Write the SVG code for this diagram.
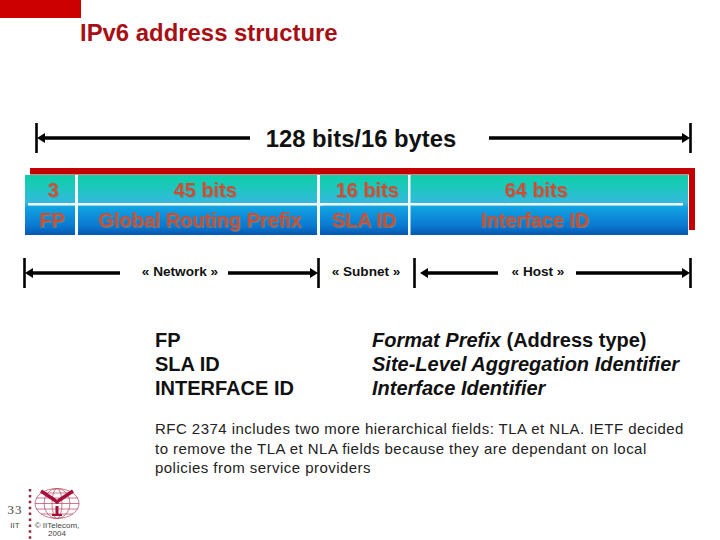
<svg xmlns="http://www.w3.org/2000/svg" width="720" height="540" viewBox="0 0 720 540">
<style>
text{font-family:"Liberation Sans",Arial,sans-serif}
.b{font-weight:bold}
.cell{font-size:19.9px;font-weight:bold;fill:#c9502f;text-anchor:middle;filter:url(#sh)}
.h{font-size:13.6px;font-weight:bold;fill:#111;text-anchor:middle}
.d{font-size:20px;font-weight:bold;fill:#111}
.i{font-style:italic}
.p{font-size:15px;fill:#222;letter-spacing:.46px}
.ln{stroke:#000;stroke-width:3.4;fill:none}
.tick{stroke:#000;stroke-width:2.6}
.ah{fill:#000}
.w{fill:#f4fbfb}
</style>
<defs>
<linearGradient id="g" x1="0" y1="0" x2="0" y2="1">
<stop offset="0" stop-color="#0ccfa8"/><stop offset=".2" stop-color="#1cc8bc"/><stop offset=".47" stop-color="#35b8e0"/><stop offset=".54" stop-color="#10a2e2"/><stop offset=".85" stop-color="#0a78d0"/><stop offset="1" stop-color="#0458b0"/>
</linearGradient>
<filter id="sh" x="-5%" y="-20%" width="110%" height="140%"><feDropShadow dx="1" dy="1" stdDeviation=".5" flood-color="#5a8a9a" flood-opacity=".8"/></filter>
</defs>
<rect x="0" y="0" width="81" height="18" fill="#cc0000"/>
<text id="title" x="80" y="41" class="b" font-size="23.9" fill="#a80f14">IPv6 address structure</text>

<g id="connectors">
<line class="tick" x1="36.500" y1="123" x2="36.500" y2="153"/>
<line class="tick" x1="690.500" y1="123" x2="690.500" y2="153"/>
<line class="ln" x1="42" y1="138" x2="250" y2="138"/>
<line class="ln" x1="489" y1="138" x2="685" y2="138"/>
<path class="ah" d="M37 138l8-5v10z"/><path class="ah" d="M690 138l-8-5v10z"/>
<line class="tick" x1="24.500" y1="258" x2="24.500" y2="288"/>
<line class="tick" x1="318.500" y1="258" x2="318.500" y2="288"/>
<line class="ln" x1="30" y1="273" x2="120" y2="273"/>
<line class="ln" x1="228" y1="273" x2="313" y2="273"/>
<path class="ah" d="M25 273l8-5v10z"/><path class="ah" d="M318 273l-8-5v10z"/>
<line class="tick" x1="414.500" y1="258" x2="414.500" y2="288"/>
<line class="tick" x1="690.500" y1="258" x2="690.500" y2="288"/>
<line class="ln" x1="425" y1="273" x2="498" y2="273"/>
<line class="ln" x1="576" y1="273" x2="685" y2="273"/>
<path class="ah" d="M420 273l8-5v10z"/><path class="ah" d="M690 273l-8-5v10z"/>
</g>
<text id="total" x="361" y="147" text-anchor="middle" class="b" font-size="23.8" fill="#111">128 bits/16 bytes</text>

<g id="table">
<rect x="30" y="168" width="665" height="6.500" fill="#c40000"/>
<rect x="689" y="168" width="6" height="62" fill="#c40000"/>
<rect x="25" y="175" width="663" height="60" fill="url(#g)"/>
<rect x="688" y="175" width="1" height="56" fill="#e8f4f4"/>
<rect class="w" x="28" y="203" width="295" height="2.500"/>
<rect class="w" x="318" y="203" width="365" height="2.500"/>
<rect class="w" x="75" y="175" width="3" height="60"/>
<rect class="w" x="317" y="175" width="3" height="60"/>
<rect class="w" x="408" y="175" width="2.500" height="60"/>
</g>
<g id="node-fp"><text class="cell" x="53" y="197">3</text><text class="cell" x="52" y="227">FP</text></g>
<g id="node-grp"><text class="cell" x="205" y="197">45 bits</text><text class="cell" x="200" y="227">Global Routing Prefix</text></g>
<g id="node-sla"><text class="cell" x="367" y="197">16 bits</text><text class="cell" x="364" y="227">SLA ID</text></g>
<g id="node-iid"><text class="cell" x="536" y="197">64 bits</text><text class="cell" x="535" y="227">Interface ID</text></g>

<text id="network" class="h" x="180" y="276">« Network »</text>
<text id="subnet" class="h" x="366" y="276">« Subnet »</text>
<text id="host" class="h" x="538" y="276">« Host »</text>

<g id="legend">
<text class="d" x="155" y="347">FP</text>
<text class="d" x="155" y="371">SLA ID</text>
<text class="d" x="155" y="395">INTERFACE ID</text>
<text class="d" x="372" y="347"><tspan class="i">Format Prefix</tspan> (Address type)</text>
<text class="d i" x="372" y="371">Site-Level Aggregation Identifier</text>
<text class="d i" x="372" y="395">Interface Identifier</text>
</g>
<g id="note">
<text class="p" x="155" y="434">RFC 2374 includes two more hierarchical fields: TLA et NLA. IETF decided</text>
<text class="p" x="155" y="454">to remove the TLA et NLA fields because they are dependant on local</text>
<text class="p" x="155" y="473">policies from service providers</text>
</g>

<g id="footer">
<path d="M30 489V539" stroke="#8a2a3a" stroke-width="2.500" stroke-dasharray="2.500 3.400" fill="none"/>
<text x="15" y="514" style="font-family:'Liberation Serif',serif" font-size="13" fill="#444" text-anchor="middle" letter-spacing="1">33</text>
<text x="15" y="528" font-size="8" fill="#444" text-anchor="middle">IIT</text>
<text x="57" y="528" font-size="8" fill="#444" text-anchor="middle">© IITelecom,</text>
<text x="57" y="536" font-size="8" fill="#444" text-anchor="middle">2004</text>
<g id="logo" fill="none" stroke="#b5425c" stroke-width=".7">
<ellipse cx="57" cy="503.500" rx="22" ry="15"/>
<ellipse cx="57" cy="503.500" rx="13" ry="15"/>
<ellipse cx="57" cy="503.500" rx="5" ry="15"/>
<path d="M36 498H78M35 503.500H79M36 509H78M41 493H73M41 514H73"/>
<path d="M41 491L56 501M73 491L58 501" stroke="#a50f3a" stroke-width="3.500"/>
<path d="M57 506V516" stroke="#a50f3a" stroke-width="3"/>
<path d="M52 515H62" stroke="#a50f3a" stroke-width="2"/>
<circle cx="57" cy="502" r="2" fill="#a50f3a" stroke="none"/>
</g>
</g>
</svg>
